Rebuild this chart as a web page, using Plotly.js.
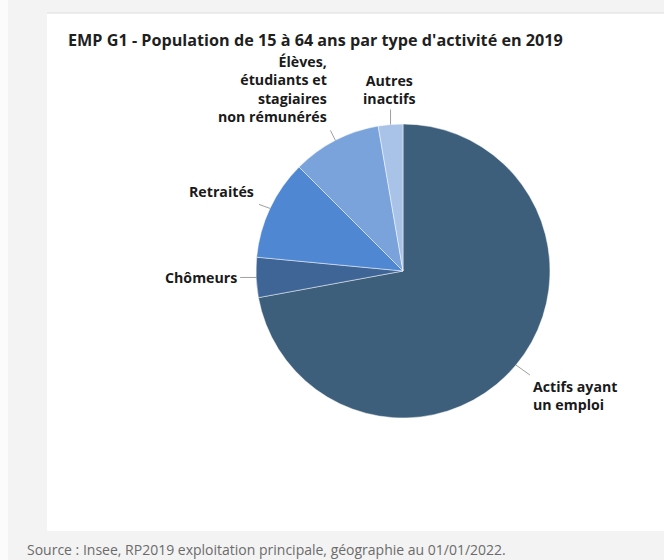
<!DOCTYPE html>
<html>
<head>
<meta charset="utf-8">
<script src="https://cdn.plot.ly/plotly-3.0.1.min.js"></script>
<style>
  html, body { margin: 0; padding: 0; background: #f3f3f3; }
  #chart { width: 664px; height: 560px; }
</style>
</head>
<body>
<div id="chart"></div>
<script>
// ---- Data ----
const categories = ['Actifs ayant un emploi', 'Chômeurs', 'Retraités',
  'Élèves, étudiants et stagiaires non rémunérés', 'Autres inactifs'];
const labelTexts = ['Actifs ayant<br>un emploi', 'Chômeurs', 'Retraités',
  'Élèves,<br>étudiants et<br>stagiaires<br>non rémunérés', 'Autres<br>inactifs'];
const shares = [72.1, 4.4, 11.0, 9.8, 2.7];
const sliceColors = ['#3d5f7c', '#3e6596', '#4f87d3', '#7aa3dc', '#a9c3e8'];
const titleText = "EMP G1 - Population de 15 à 64 ans par type d'activité en 2019";
const sourceText = 'Source : Insee, RP2019 exploitation principale, géographie au 01/01/2022.';

// ---- Layout constants (pixels) ----
const W = 664, H = 560;
const CX = 403, CY = 271, R = 147;
const LABEL_SIZE = 14.2;
// connector end offset from slice edge point; text anchor offset from connector end
const labelLayout = [
  {cdx: 14, cdy: 10, tdx: 2, tdy: 1, xa: 'left', ya: 'top', al: 'left'},
  {cdx: -16, cdy: 0, tdx: -2, tdy: 0, xa: 'right', ya: 'middle', al: 'right'},
  {cdx: -11, cdy: -4, tdx: -4, tdy: -13, xa: 'right', ya: 'middle', al: 'right'},
  {cdx: -5, cdy: -10, tdx: -2, tdy: -3, xa: 'right', ya: 'bottom', al: 'right'},
  {cdx: 0, cdy: -15, tdx: -1, tdy: -1, xa: 'center', ya: 'bottom', al: 'center'}
];

const px = x => x / W;
const py = y => 1 - y / H;

const total = shares.reduce((a, b) => a + b, 0);
let cum = 0;
const shapes = [
  {type: 'rect', xref: 'paper', yref: 'paper', x0: px(47), x1: px(664), y0: py(531), y1: py(13),
   fillcolor: '#ffffff', line: {width: 0}, layer: 'below'},
  {type: 'line', xref: 'paper', yref: 'paper', x0: px(47), x1: px(664), y0: py(13), y1: py(13),
   line: {color: '#dedede', width: 1}, layer: 'below'},
  {type: 'rect', xref: 'paper', yref: 'paper', x0: px(0), x1: px(8), y0: py(560), y1: py(0),
   fillcolor: '#fbfbfb', line: {width: 0}, layer: 'below'}
];
const annotations = [
  {xref: 'paper', yref: 'paper', x: px(66), y: py(40), xanchor: 'left', yanchor: 'middle',
   text: '<b>' + titleText + '</b>', showarrow: false,
   font: {family: 'Open Sans', size: 16.2, color: '#1f1f1f'}},
  {xref: 'paper', yref: 'paper', x: px(25), y: py(549), xanchor: 'left', yanchor: 'middle',
   text: sourceText, showarrow: false,
   font: {family: 'Open Sans', size: 14, color: '#6b6b6b'}}
];

shares.forEach((v, i) => {
  const mid = (cum + v / 2) / total * 2 * Math.PI;
  cum += v;
  const ex = CX + R * Math.sin(mid);
  const ey = CY - R * Math.cos(mid);
  const L = labelLayout[i];
  const cx2 = ex + L.cdx, cy2 = ey + L.cdy;
  shapes.push({type: 'line', xref: 'paper', yref: 'paper',
    x0: px(ex), y0: py(ey), x1: px(cx2), y1: py(cy2),
    line: {color: '#a0a0a0', width: 1}});
  annotations.push({xref: 'paper', yref: 'paper', x: px(cx2 + L.tdx), y: py(cy2 + L.tdy),
    xanchor: L.xa, yanchor: L.ya, align: L.al, showarrow: false, borderpad: 0,
    text: '<b>' + labelTexts[i] + '</b>',
    font: {family: 'Open Sans', size: LABEL_SIZE, color: '#1a1a1a'}});
});

const trace = {
  type: 'pie',
  labels: categories,
  values: shares,
  sort: false,
  direction: 'clockwise',
  rotation: 0,
  textinfo: 'none',
  hoverinfo: 'label+percent',
  showlegend: false,
  marker: {colors: sliceColors, line: {color: 'rgba(255,255,255,0.6)', width: 0.8}},
  domain: {x: [px(CX - R), px(CX + R)], y: [py(CY + R), py(CY - R)]}
};

Plotly.newPlot('chart', [trace], {
  width: W, height: H,
  margin: {l: 0, r: 0, t: 0, b: 0},
  paper_bgcolor: '#f3f3f3',
  plot_bgcolor: 'rgba(0,0,0,0)',
  shapes: shapes,
  annotations: annotations,
  font: {family: 'Open Sans'}
}, {displayModeBar: false, staticPlot: true});
</script>
</body>
</html>
